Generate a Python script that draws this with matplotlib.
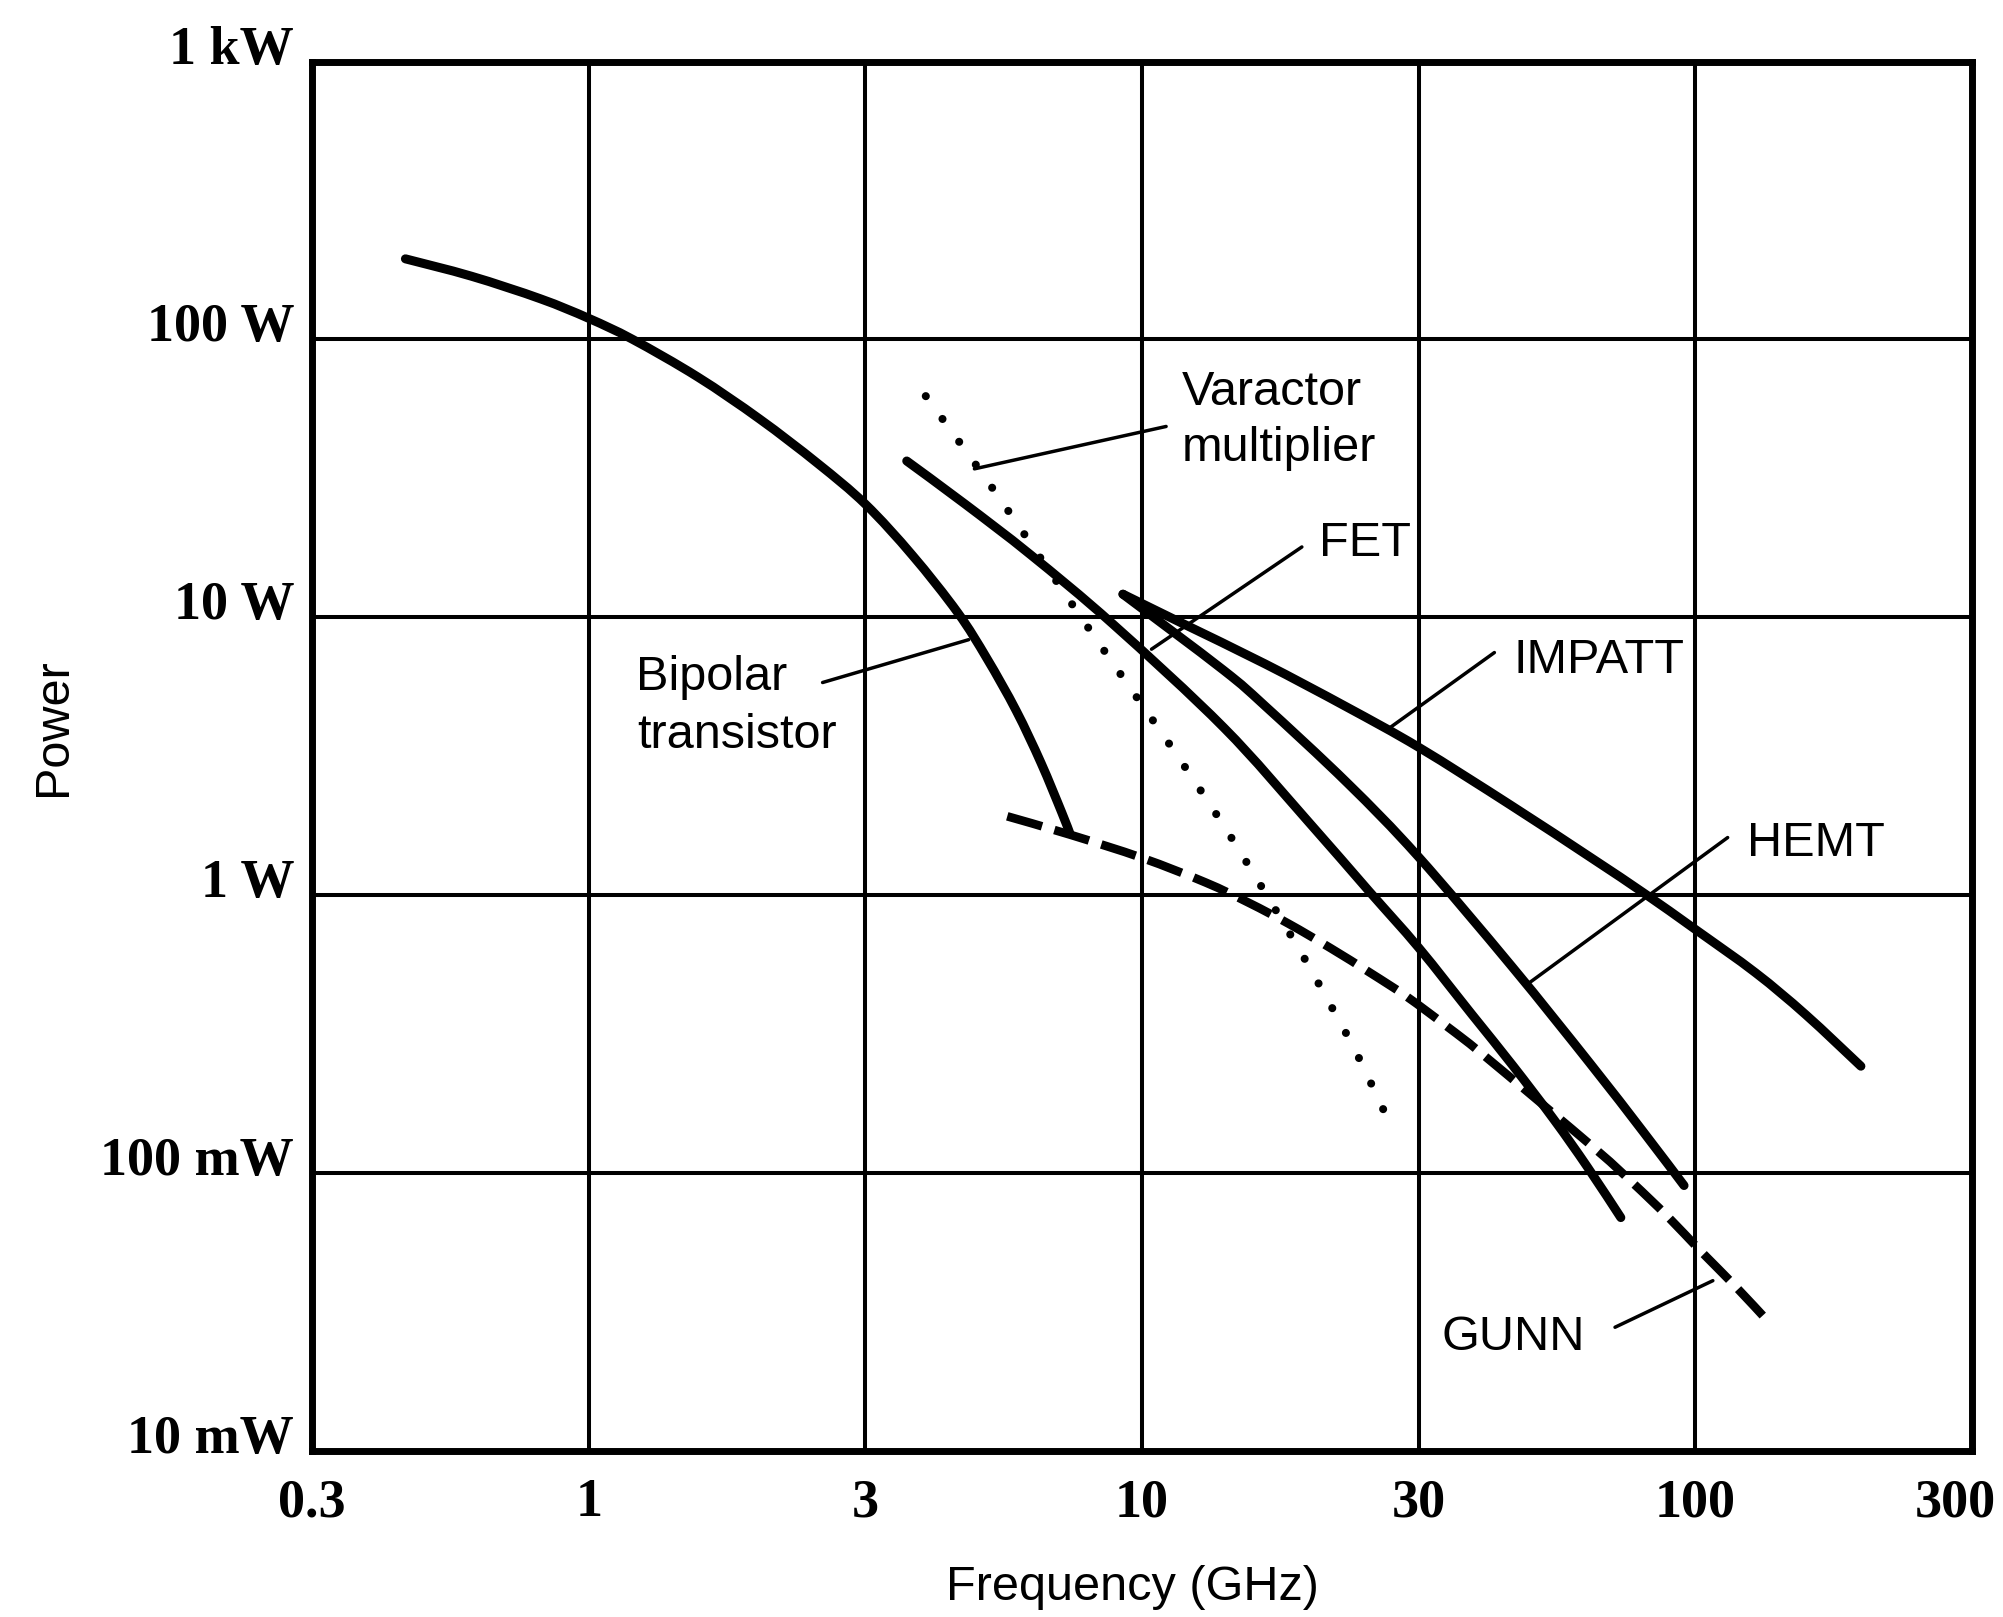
import numpy as np
import matplotlib
matplotlib.use("Agg")
import matplotlib.pyplot as plt
from matplotlib.ticker import NullLocator
from matplotlib.transforms import ScaledTranslation
from matplotlib.path import Path
from matplotlib.patches import PathPatch

# ---- axis grid values -------------------------------------------------------
freq_ticks = [0.3, 1, 3, 10, 30, 100, 300]            # GHz, 1-3-10 paper grid
freq_tick_labels = ["0.3", "1", "3", "10", "30", "100", "300"]
power_ticks = [0.01, 0.1, 1, 10, 100, 1000]           # W
power_tick_labels = ["10 mW", "100 mW", "1 W", "10 W", "100 W", "1 kW"]

# ---- device curves: frequency (GHz) / power (W) -----------------------------
bipolar_f = [0.45, 0.60, 0.81, 1.0, 1.19, 1.54, 1.97, 2.48, 3.0, 3.68, 4.48,
             5.09, 5.78, 6.44, 7.05, 7.3]
bipolar_p = [195, 168.8, 140, 119, 100, 73.3, 51.7, 35.8, 25.5, 16.7, 10.4,
             7.1, 4.61, 2.99, 1.98, 1.67]

fet_f = [3.59, 4.62, 6.15, 8.81, 13.84, 19.25, 24.6, 30.0, 37.8, 45.2, 54.1,
         62.5, 72.3]
fet_p = [36.5, 25.6, 16.8, 9.44, 4.0, 1.86, 1.035, 0.646, 0.372, 0.243, 0.155,
         0.105, 0.069]

hemt_f = [9.2, 13.8, 16.3, 22.6, 29.9, 45.0, 63.2, 79.6, 95.2]
hemt_p = [12.1, 6.46, 4.79, 2.53, 1.38, 0.553, 0.248, 0.141, 0.090]

impatt_f = [9.2, 11.7, 16.3, 22.5, 30.1, 44.7, 63.6, 80.3, 100, 127, 155, 193]
impatt_p = [12.1, 9.53, 6.79, 4.76, 3.39, 2.11, 1.36, 1.01, 0.752, 0.525,
            0.371, 0.242]

gunn_f = [5.56, 7.3, 10.0, 12.86, 15.27, 17.9, 21.16, 24.77, 28.6, 34.1, 40.0,
          64.5, 76.0, 88.6, 102.3, 116.9, 133.5]
gunn_p = [1.92, 1.65, 1.36, 1.11, 0.938, 0.788, 0.643, 0.524, 0.431, 0.334,
          0.263, 0.1225, 0.0923, 0.0697, 0.0521, 0.0393, 0.0292]

varactor_f = [3.90, 5.25, 8.06, 10.7, 12.19, 13.82, 15.62, 18.67, 20.86, 23.3,
              25.7, 27.0]
varactor_p = [62.5, 28.6, 8.7, 3.95, 2.65, 1.78, 1.18, 0.636, 0.422, 0.276,
              0.180, 0.144]

# ---- labels and their leader lines (data coordinates) -----------------------
label_text = ["Varactor", "multiplier", "FET", "IMPATT", "HEMT", "GUNN",
              "Bipolar", "transistor"]
label_f = [11.7, 11.7, 20.2, 45.3, 123.0, 33.1, 1.206, 1.21]
label_p = [57.9, 36.4, 16.6, 6.30, 1.377, 0.0230, 5.49, 3.37]

leader_f0 = [4.82, 10.38, 26.7, 48.4, 70.5, 2.53]
leader_p0 = [34.2, 7.67, 3.99, 0.481, 0.0278, 5.82]
leader_f1 = [11.0, 18.86, 41.7, 113.7, 107.2, 4.70]
leader_p1 = [48.6, 17.9, 7.46, 1.61, 0.0409, 8.3]


# Frequency scale: each 1-3-10 step of the grid takes the same width.
_log_ticks = np.log10(np.asarray(freq_ticks, float))
_steps = np.arange(len(freq_ticks), dtype=float)
_lo_span = _log_ticks[1] - _log_ticks[0]
_hi_span = _log_ticks[-1] - _log_ticks[-2]


def grid_forward(f):
    f = np.asarray(f, float)
    lf = np.log10(np.clip(f, 1e-12, None))
    u = np.interp(lf, _log_ticks, _steps)
    u = np.where(lf < _log_ticks[0], (lf - _log_ticks[0]) / _lo_span, u)
    u = np.where(lf > _log_ticks[-1],
                 _steps[-1] + (lf - _log_ticks[-1]) / _hi_span, u)
    return u


def grid_inverse(u):
    u = np.asarray(u, float)
    lf = np.interp(u, _steps, _log_ticks)
    lf = np.where(u < 0, _log_ticks[0] + u * _lo_span, lf)
    lf = np.where(u > _steps[-1], _log_ticks[-1] + (u - _steps[-1]) * _hi_span, lf)
    return 10.0 ** lf


def smooth_curve(ax, fx, py, **style):
    """Draw a smooth Bezier curve through the given points (Catmull-Rom)."""
    pts = np.column_stack([grid_forward(fx), np.log10(np.asarray(py, float))])
    ext = np.vstack([pts[0], pts, pts[-1]])
    verts = [pts[0]]
    codes = [Path.MOVETO]
    for i in range(len(pts) - 1):
        p0, p1, p2, p3 = ext[i], ext[i + 1], ext[i + 2], ext[i + 3]
        verts += [p1 + (p2 - p0) / 6.0, p2 - (p3 - p1) / 6.0, p2]
        codes += [Path.CURVE4] * 3
    verts = np.asarray(verts)
    data_verts = np.column_stack([grid_inverse(verts[:, 0]), 10.0 ** verts[:, 1]])
    patch = PathPatch(Path(data_verts, codes), fill=False,
                      transform=ax.transData, zorder=3, **style)
    ax.add_patch(patch)
    return patch


SERIF = ["Liberation Serif", "DejaVu Serif"]
SANS = ["Liberation Sans", "DejaVu Sans"]

fig = plt.figure(figsize=(20.03, 16.17), dpi=100)
ax = fig.add_axes([0.1559, 0.1029, 0.8286, 0.8590])

ax.set_xscale("function", functions=(grid_forward, grid_inverse))
ax.set_yscale("log")

ax.set_xticks(freq_ticks)
ax.set_xticklabels(freq_tick_labels)
ax.set_yticks(power_ticks)
ax.set_yticklabels(power_tick_labels)
ax.xaxis.set_minor_locator(NullLocator())
ax.yaxis.set_minor_locator(NullLocator())

ax.tick_params(axis="both", length=0)
ax.tick_params(axis="x", pad=20)
ax.tick_params(axis="y", pad=13)
for lab in ax.get_xticklabels() + ax.get_yticklabels():
    lab.set_fontfamily(SERIF)
    lab.set_fontsize(39)
    lab.set_fontweight("bold")
# power labels sit a little above their grid lines
for lab in ax.get_yticklabels():
    lab.set_transform(lab.get_transform() +
                      ScaledTranslation(0, 0.17, fig.dpi_scale_trans))
# the last frequency label is pulled in from the right edge
last = ax.get_xticklabels()[-1]
last.set_transform(last.get_transform() +
                   ScaledTranslation(-0.17, 0, fig.dpi_scale_trans))

ax.grid(True, which="major", color="black", linewidth=2.9)
for sp in ax.spines.values():
    sp.set_linewidth(5.0)
    sp.set_color("black")

solid = dict(edgecolor="black", linewidth=6.5, capstyle="round",
             joinstyle="round")
smooth_curve(ax, bipolar_f, bipolar_p, **solid)
smooth_curve(ax, fet_f, fet_p, **solid)
smooth_curve(ax, hemt_f, hemt_p, **solid)
smooth_curve(ax, impatt_f, impatt_p, **solid)
smooth_curve(ax, gunn_f, gunn_p, edgecolor="black", linewidth=6.2,
             linestyle=(0, (4.2, 1.5)), capstyle="butt")
smooth_curve(ax, varactor_f, varactor_p, edgecolor="black", linewidth=5.8,
             linestyle=(0, (0.01, 3.5)), capstyle="round")

for f0, p0, f1, p1 in zip(leader_f0, leader_p0, leader_f1, leader_p1):
    ax.plot([f0, f1], [p0, p1], color="black", linewidth=2.5,
            solid_capstyle="round", zorder=3)

for txt, f, p in zip(label_text, label_f, label_p):
    ax.text(f, p, txt, ha="left", va="baseline", fontsize=35,
            family=SANS, color="black", zorder=4)

ax.set_xlim(0.3, 300)
ax.set_ylim(0.01, 1000)

fig.text(1132 / 2003, 1 - 1587 / 1617, "Frequency (GHz)", ha="center",
         va="center", fontsize=35, family=SANS)
fig.text(53 / 2003, 1 - 727 / 1617, "Power", ha="center", va="center",
         rotation=90, fontsize=35, family=SANS)

fig.savefig("out.png", dpi=100, facecolor="white")
